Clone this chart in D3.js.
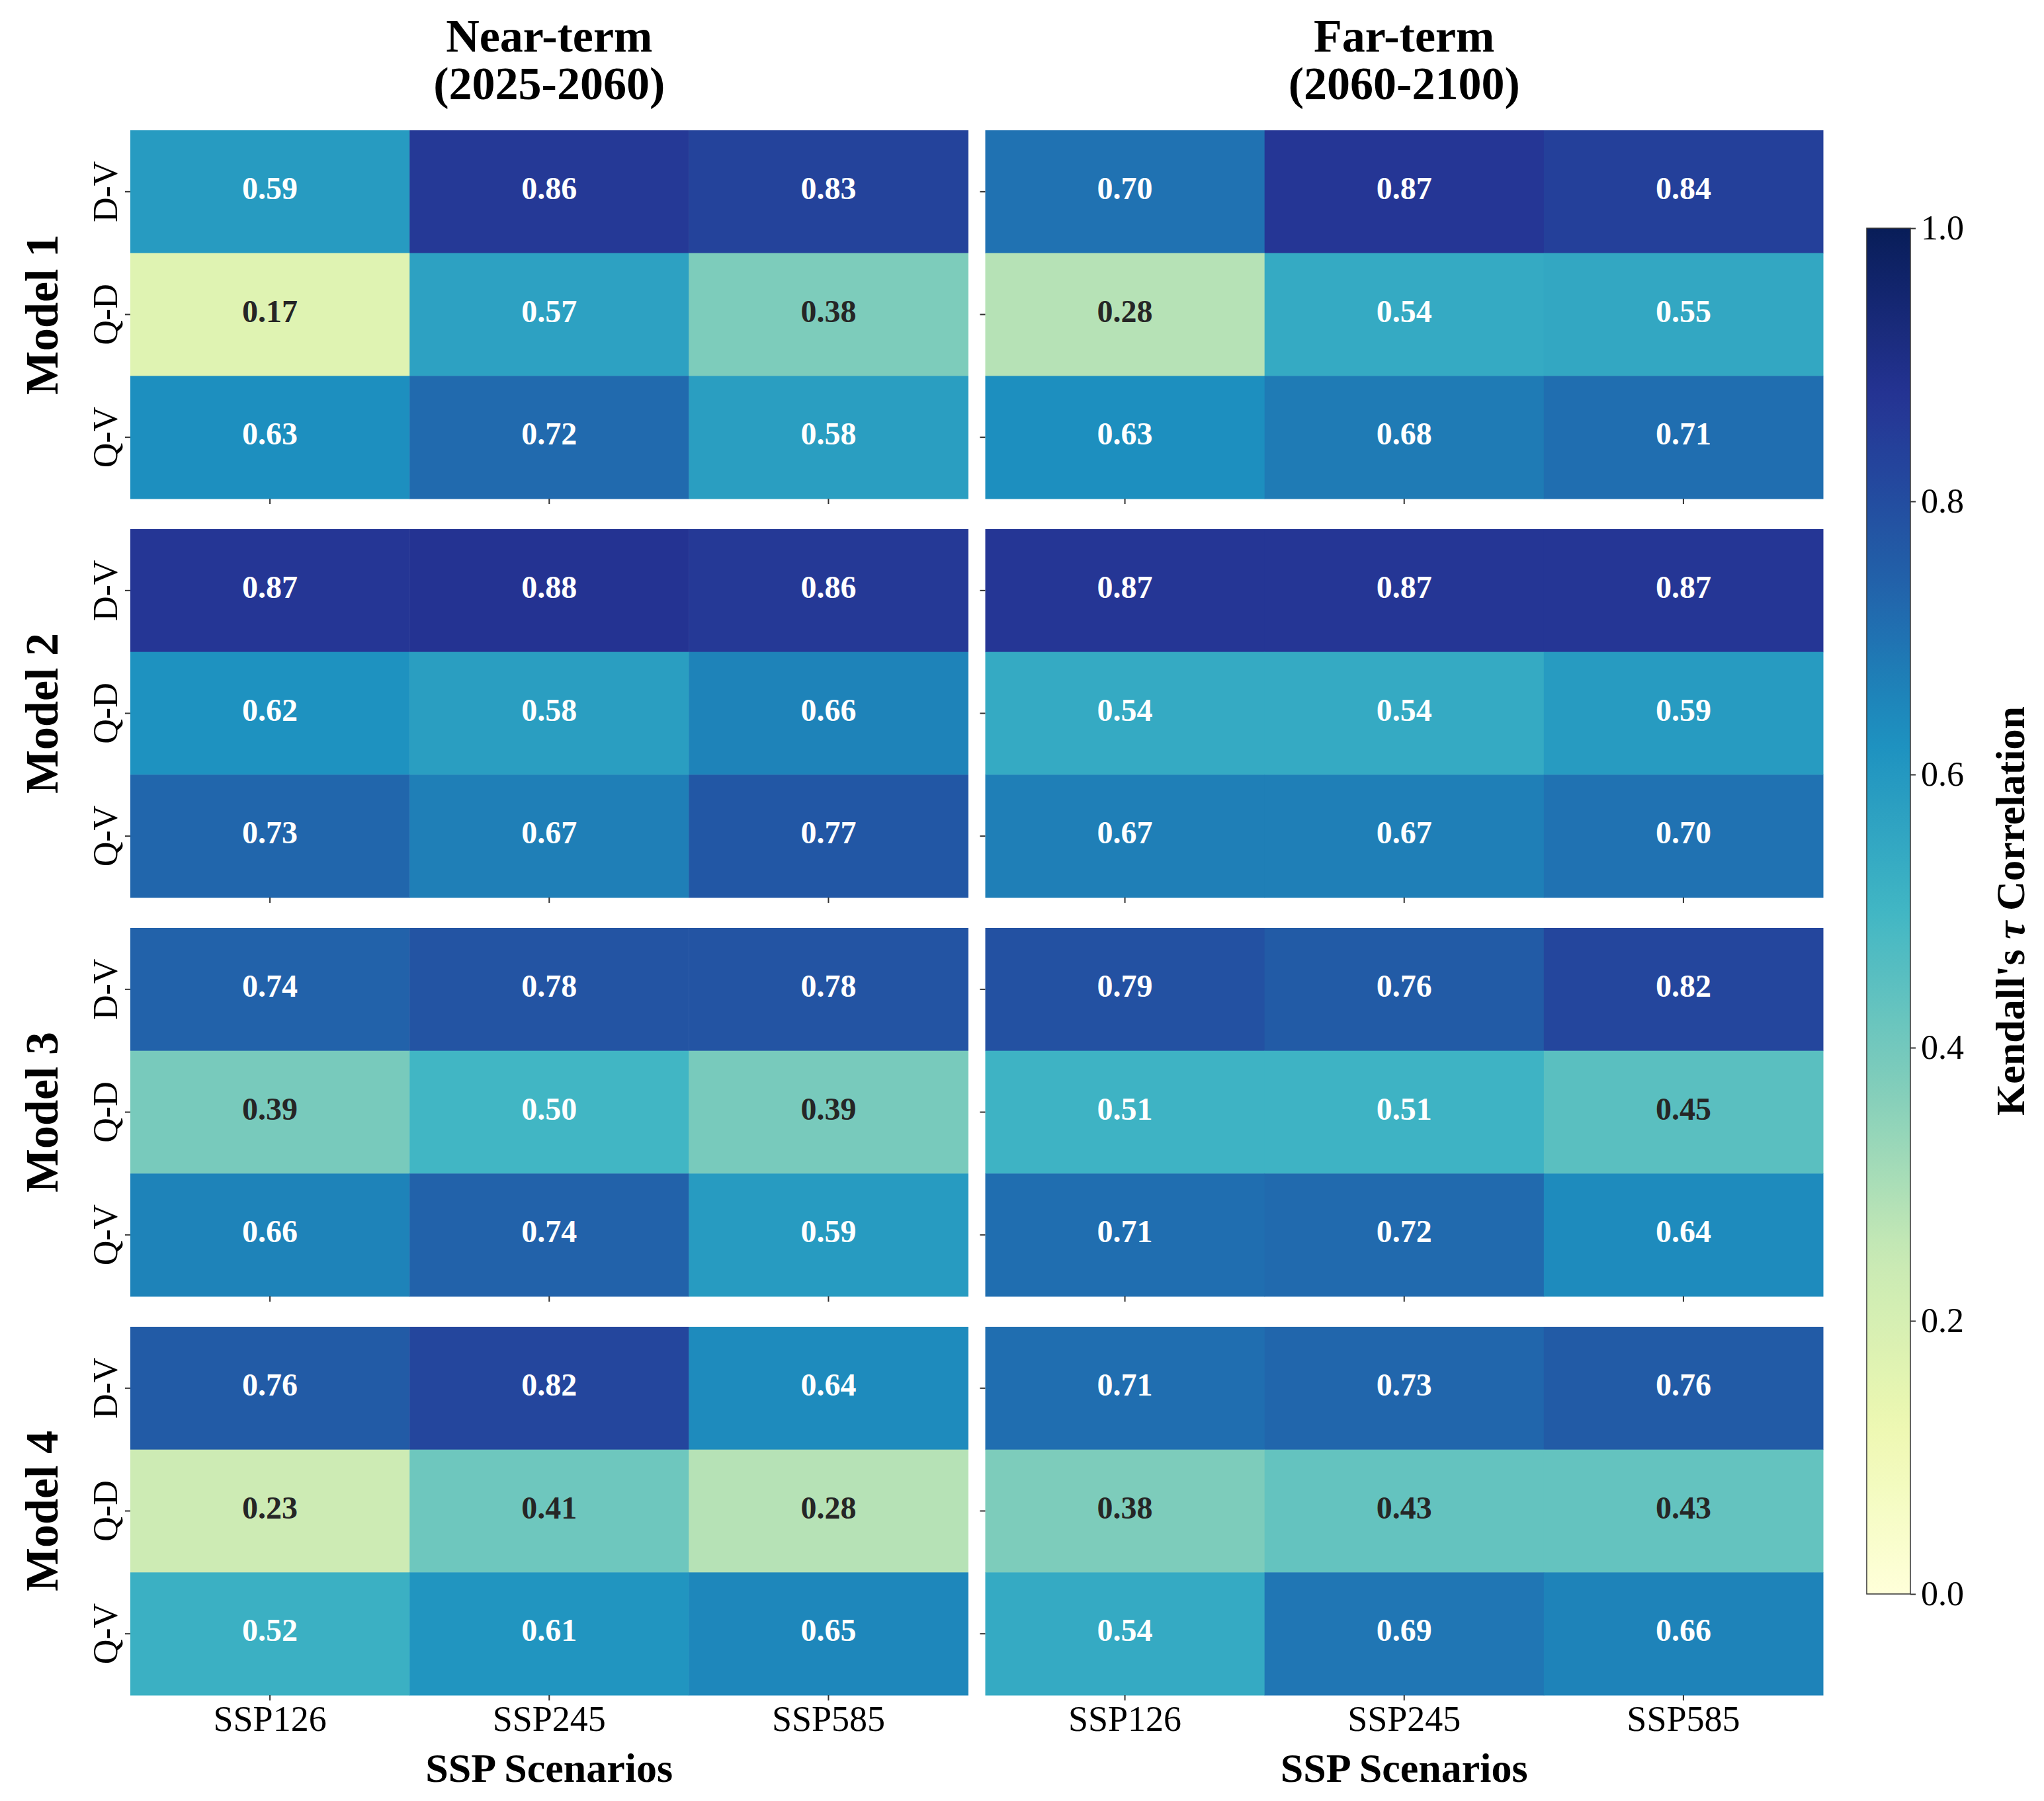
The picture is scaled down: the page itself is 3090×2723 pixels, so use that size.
<!DOCTYPE html>
<html>
<head>
<meta charset="utf-8">
<script src="https://cdn.jsdelivr.net/npm/d3@7"></script>
<style>
  body { margin: 0; background: #fff; }
  svg { font-family: "Liberation Serif", "Times New Roman", serif; }
</style>
</head>
<body>
<svg id="chart" width="3090" height="2723"></svg>
<script>
// data
const periods = ["Near-term", "Far-term"];
const periodYears = ["(2025-2060)", "(2060-2100)"];
const models = ["Model 1", "Model 2", "Model 3", "Model 4"];
const pairs = ["D-V", "Q-D", "Q-V"];
const scenarios = ["SSP126", "SSP245", "SSP585"];

// rows = pairs, cols = scenarios
const nearTerm = [
  [[0.59, 0.86, 0.83], [0.17, 0.57, 0.38], [0.63, 0.72, 0.58]],
  [[0.87, 0.88, 0.86], [0.62, 0.58, 0.66], [0.73, 0.67, 0.77]],
  [[0.74, 0.78, 0.78], [0.39, 0.50, 0.39], [0.66, 0.74, 0.59]],
  [[0.76, 0.82, 0.64], [0.23, 0.41, 0.28], [0.52, 0.61, 0.65]]
];
const farTerm = [
  [[0.70, 0.87, 0.84], [0.28, 0.54, 0.55], [0.63, 0.68, 0.71]],
  [[0.87, 0.87, 0.87], [0.54, 0.54, 0.59], [0.67, 0.67, 0.70]],
  [[0.79, 0.76, 0.82], [0.51, 0.51, 0.45], [0.71, 0.72, 0.64]],
  [[0.71, 0.73, 0.76], [0.38, 0.43, 0.43], [0.54, 0.69, 0.66]]
];
const colorTicks = [0, 0.2, 0.4, 0.6, 0.8, 1.0];

// YlGnBu like matplotlib (piecewise linear over the brewer colours)
const ylgnbu = ["#ffffd9", "#edf8b1", "#c7e9b4", "#7fcdbb", "#41b6c4",
                "#1d91c0", "#225ea8", "#253494", "#081d58"];
const color = d3.scaleLinear()
  .domain(ylgnbu.map((c, i) => i / (ylgnbu.length - 1)))
  .range(ylgnbu)
  .clamp(true);

// seaborn picks annotation colour from luminance
function textColor(v) {
  const c = d3.rgb(color(v));
  const lin = x => { x = x / 255; return x <= 0.03928 ? x / 12.92 : Math.pow((x + 0.055) / 1.055, 2.4); };
  const l = 0.2126 * lin(c.r) + 0.7152 * lin(c.g) + 0.0722 * lin(c.b);
  return l > 0.408 ? "#262626" : "#ffffff";
}

const svg = d3.select("#chart");
const serif = '"Liberation Serif", "Times New Roman", serif';

const panelX = d3.scaleBand().domain(periods).range([197, 2756]).paddingInner(0.0201);
const panelY = d3.scaleBand().domain(models).range([197, 2563]).paddingInner(0.0763);

const allData = [nearTerm, farTerm];

periods.forEach((p, pi) => {
  models.forEach((m, mi) => {
    const x0 = panelX(p), y0 = panelY(m);
    const x = d3.scaleBand().domain(scenarios).range([x0, x0 + panelX.bandwidth()]);
    const y = d3.scaleBand().domain(pairs).range([y0, y0 + panelY.bandwidth()]);
    const cells = [];
    pairs.forEach((r, ri) => scenarios.forEach((s, si) => {
      cells.push({ r, s, v: allData[pi][mi][ri][si] });
    }));

    const g = svg.append("g").attr("class", "panel");
    g.selectAll("rect")
      .data(cells)
      .join("rect")
      .attr("x", d => x(d.s))
      .attr("y", d => y(d.r))
      .attr("width", x.bandwidth() + 0.5)
      .attr("height", y.bandwidth() + 0.5)
      .attr("fill", d => color(d.v));

    g.selectAll("text.val")
      .data(cells)
      .join("text")
      .attr("class", "val")
      .attr("x", d => x(d.s) + x.bandwidth() / 2)
      .attr("y", d => y(d.r) + y.bandwidth() / 2)
      .attr("dy", "0.23em")
      .attr("text-anchor", "middle")
      .attr("font-size", 48)
      .attr("font-weight", "bold")
      .attr("fill", d => textColor(d.v))
      .text(d => d.v.toFixed(2));

    // left ticks (labels only in first column)
    const ya = svg.append("g")
      .attr("transform", `translate(${x0},0)`)
      .call(d3.axisLeft(y).tickSize(8).tickPadding(10)
        .tickFormat(pi === 0 ? (d => d) : () => ""));
    ya.select(".domain").remove();
    ya.selectAll(".tick line").attr("stroke", "#333").attr("stroke-width", 2);
    ya.selectAll(".tick text")
      .attr("font-family", serif)
      .attr("font-size", 52)
      .attr("fill", "#000")
      .attr("text-anchor", "middle")
      .attr("transform", "rotate(-90)")
      .attr("x", 0)
      .attr("y", -38)
      .attr("dy", "0.35em");

    // bottom ticks (labels only in last row)
    const xa = svg.append("g")
      .attr("transform", `translate(0,${y0 + panelY.bandwidth()})`)
      .call(d3.axisBottom(x).tickSize(8).tickPadding(8)
        .tickFormat(mi === models.length - 1 ? (d => d) : () => ""));
    xa.select(".domain").remove();
    xa.selectAll(".tick line").attr("stroke", "#333").attr("stroke-width", 2);
    xa.selectAll(".tick text")
      .attr("font-family", serif)
      .attr("font-size", 54)
      .attr("fill", "#000");

    if (pi === 0) {
      svg.append("text")
        .attr("transform", `translate(62,${y0 + panelY.bandwidth() / 2}) rotate(-90)`)
        .attr("text-anchor", "middle")
        .attr("dy", "0.35em")
        .attr("font-size", 70)
        .attr("font-weight", "bold")
        .text(m);
    }
  });

  const cx = panelX(p) + panelX.bandwidth() / 2;
  svg.append("text")
    .attr("x", cx).attr("y", 78)
    .attr("text-anchor", "middle")
    .attr("font-size", 70).attr("font-weight", "bold")
    .text(p);
  svg.append("text")
    .attr("x", cx).attr("y", 150)
    .attr("text-anchor", "middle")
    .attr("font-size", 70).attr("font-weight", "bold")
    .text(periodYears[pi]);
  svg.append("text")
    .attr("x", cx).attr("y", 2694)
    .attr("text-anchor", "middle")
    .attr("font-size", 62).attr("font-weight", "bold")
    .text("SSP Scenarios");
});

// colour bar
const cbX = 2822, cbW = 66;
const cbScale = d3.scaleLinear().domain([0, 1]).range([2410, 345]);
const defs = svg.append("defs");
const grad = defs.append("linearGradient")
  .attr("id", "cbGrad")
  .attr("x1", 0).attr("y1", 1).attr("x2", 0).attr("y2", 0);
grad.selectAll("stop")
  .data(d3.range(0, 1.0001, 0.02))
  .join("stop")
  .attr("offset", d => d)
  .attr("stop-color", d => color(d));

svg.append("rect")
  .attr("x", cbX).attr("y", cbScale(1))
  .attr("width", cbW).attr("height", cbScale(0) - cbScale(1))
  .attr("fill", "url(#cbGrad)")
  .attr("stroke", "#333").attr("stroke-width", 1.5);

const ca = svg.append("g")
  .attr("transform", `translate(${cbX + cbW},0)`)
  .call(d3.axisRight(cbScale).tickValues(colorTicks).tickSize(8).tickPadding(8)
    .tickFormat(d3.format(".1f")));
ca.select(".domain").remove();
ca.selectAll(".tick line").attr("stroke", "#333").attr("stroke-width", 2);
ca.selectAll(".tick text")
  .attr("font-family", serif)
  .attr("font-size", 52)
  .attr("fill", "#000");

const cbLabel = svg.append("text")
  .attr("transform", `translate(3038,${(cbScale(0) + cbScale(1)) / 2}) rotate(-90)`)
  .attr("text-anchor", "middle")
  .attr("dy", "0.35em")
  .attr("font-size", 62)
  .attr("font-weight", "bold");
cbLabel.append("tspan").text("Kendall's ");
cbLabel.append("tspan").attr("font-style", "italic").text("τ");
cbLabel.append("tspan").text(" Correlation");
</script>
</body>
</html>
